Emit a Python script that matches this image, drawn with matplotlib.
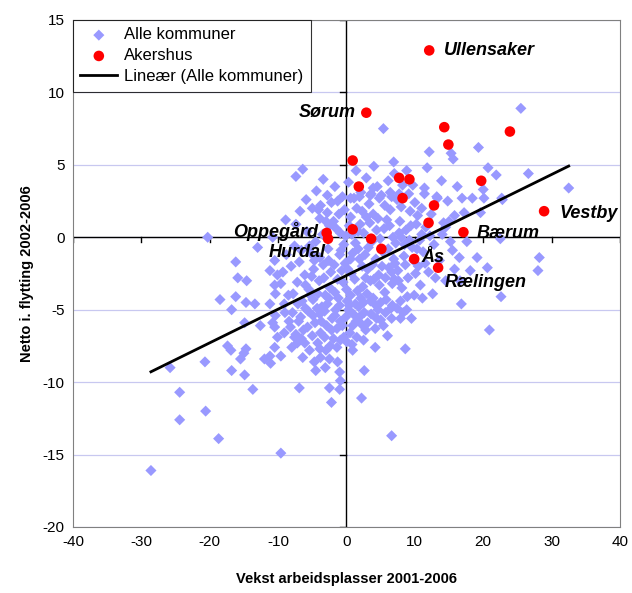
import numpy as np
import matplotlib.pyplot as plt

plt.rcParams['font.family'] = ['Liberation Sans', 'DejaVu Sans']
plt.rcParams['axes.unicode_minus'] = False

# Alle kommuner: vekst arbeidsplasser (x) og netto innflytting (y)
alle_x = [
    -7.4, -6.4, -20.3, -13.0, -16.2, -15.9, -14.6, -11.2, -10.5, -10.1, -9.6, -10.5, -10.8,
    -18.5, -16.8, -16.2, -14.7, -13.4, -14.9, -17.4, -16.9, -15.0, -15.5, -14.7, -12.0, -11.1,
    -9.6, -11.2, -10.5, -10.1, -10.5, -10.8, -12.6, -11.2, -10.4, -9.1, -9.1, -10.4,
    -25.8, -20.7, -16.8, -14.9, -24.4, -13.7, -20.6, -24.4, -18.7, -9.6, -28.6,
    -6.9, -2.5, -1.0, -2.2, 2.2, 6.6,
    -0.9, 2.5, 0.9, 4.2, -5.4, -3.9, -6.4, -3.8, -4.7, -2.5, -1.3, -4.5, -3.1, -1.0, 2.6, -0.9,
    -7.6, -8.2, -7.2,
    16.8, 22.6, 20.9, 8.6, 8.9, 11.1, 7.9, 8.8, 6.7,
    22.5, 20.6, 22.8, 28.2, 28.0,
    18.4, 19.6, 19.1, 18.1, 16.6, 15.2, 16.5, 17.6, 14.5, 15.8, 17.2,
    25.5, 19.3, 20.7, 21.9, 26.6, 32.5, 20.0, 20.1, 22.7,
    5.4, 12.1, 15.3, 15.6, 6.9, 2.9, 3.9, 16.2,
    0.6, 1.9, 3.5, 4.8, 6.4, 7.7, 11.4, 13.3, 16.9,
    -5.0, -3.8, -2.8, -3.9,
    -8.8, -8.1, -7.6, -7.2, -6.9, -6.5, -6.1, -5.8, -5.5, -5.2, -8.5, -7.9, -7.0, -6.3, -5.6,
    -8.9, -6.8, -5.9, -7.4, -9.3,
    -4.8, -4.5, -4.2, -3.9, -3.6, -3.3, -3.0, -2.7, -2.4, -2.1, -1.8, -1.5, -1.2, -4.6, -3.8,
    -2.9, -1.9, -4.1, -2.2, -1.3, -4.9, -3.5, -2.6, -1.6, -1.1, -4.4, -3.1, -1.4,
    -0.8, -0.5, -0.2, 0.1, 0.4, 0.7, 1.0, 1.3, 1.6, 1.9, 2.2, 2.5, 2.8, -0.9, -0.3, 0.5, 1.1,
    1.8, 2.4, 2.9, -0.6, 0.2, 0.9, 1.5, 2.6, -0.1, 0.6, 2.0, 2.7,
    3.2, 3.5, 3.8, 4.1, 4.4, 4.7, 5.0, 5.3, 5.6, 5.9, 6.2, 6.5, 6.8, 3.3, 4.2, 5.1, 6.0, 6.7,
    3.9, 4.9, 5.7, 3.6, 6.4, 4.5, 6.9,
    7.2, 7.5, 7.8, 8.1, 8.4, 8.7, 9.0, 9.3, 9.6, 9.9, 10.2, 10.5, 10.8, 7.4, 8.3, 9.1, 10.0,
    10.7, 7.9, 9.5, 8.8, 10.4,
    11.2, 11.6, 12.0, 12.4, 12.8, 13.2, 13.6, 14.0, 14.5, 15.0, 15.5, 11.4, 12.6, 13.9, 11.8,
    14.8, 15.8,
    0.3, 1.4, 2.1, -1.7, -3.4, 4.0, 6.1, 7.0, 8.2,
    -0.4, 0.8, 1.7, 2.3, 3.0, 3.7, 4.3, 4.8, 5.5, 6.1, 6.6, 7.1, 7.6, 8.0, 8.6, 9.2, 9.8,
    10.3, 11.0, 11.5,
    -0.7, 0.0, 0.6, 1.2, 1.7, 2.1, 3.1, 3.4, 4.0, 4.6, 5.2, 5.8, 6.3, 7.0, 7.7, 8.5, 9.4, 10.1,
    -5.4, -4.7, -4.0, -3.4, -2.8, -2.3, -1.7, -1.0, -6.6, -6.0, -5.1, -3.9, -2.5, -1.9, -0.9,
    0.3, 1.4, 2.8, 3.9, 4.6, 5.4, 6.6, 7.4, 0.8, -0.4, -2.4, -3.2, -5.0, -6.1,
    0.6, 1.5, 2.3, 3.6, 5.6, 6.6, 8.0, 9.7, 11.0, 12.2, 13.0, 14.2, -1.3, -2.8,
    -7.8, -7.1, -6.7, -6.0, -5.3, -4.9, -4.3, -3.7, -3.2, -2.6, -2.2, -1.7, -1.0, -0.6, -0.1,
    0.4, 0.9, 1.3, 1.9, 2.5, 3.1, 3.5, 4.4, 5.0, 5.7, -8.4, -7.4, -6.6, -5.7, -4.2, -3.0,
    -1.4, 0.0, -9.0, -8.0,
]
alle_y = [
    4.2, 4.7, 0.0, -0.7, -1.7, -2.8, -3.0, -2.3, -1.6, -2.6, -3.2, -3.3, 0.0,
    -4.3, -5.0, -4.1, -4.5, -4.6, -5.9, -7.5, -7.8, -8.0, -8.4, -7.7, -8.4, -8.7,
    -8.2, -8.2, -7.6, -6.9, -6.2, -5.9, -6.1, -4.6, -3.9, -4.6, -6.6, -5.4,
    -9.0, -8.6, -9.2, -9.5, -10.7, -10.5, -12.0, -12.6, -13.9, -14.9, -16.1,
    -10.4, -10.4, -10.5, -11.4, -11.1, -13.7,
    -7.1, -7.1, -7.8, -7.6, -7.8, -7.7, -8.3, -8.3, -8.6, -8.4, -8.6, -9.2, -9.0, -9.3, -9.2, -9.9,
    -6.9, -6.2, -7.3,
    -4.6, -4.1, -6.4, -7.7, -4.1, -4.2, -5.6, -5.0, -4.7,
    -0.1, -2.1, 2.6, -1.4, -2.3,
    2.7, 1.7, -1.4, -2.3, -3.0, -0.3, -1.4, -0.3, 0.7, 1.5, 1.7,
    8.9, 6.2, 4.8, 4.3, 4.4, 3.4, 3.3, 2.7, 2.7,
    7.5, 5.9, 5.8, 5.4, 5.2, 4.1, 3.4, 3.5,
    2.7, 2.8, 2.9, 2.7, 3.1, 3.0, 3.0, 2.7, 2.7,
    2.0, 2.2, 1.7, 1.3,
    -1.2, -2.0, -0.6, -3.1, -1.7, -4.4, -2.6, 0.4, -3.6, -1.1, -4.0, -5.2, -5.8, -6.4, -5.1,
    1.2, 1.8, 2.6, 0.9, -2.4,
    -2.2, -0.3, -3.9, -1.4, -4.8, -2.8, 1.1, -0.8, -3.5, -5.6, -1.9, 0.6, -4.2, -5.9, -6.6,
    -6.1, -7.0, 1.9, 2.4, -2.9, -4.3, 0.2, -1.6, -5.0, 1.6, 3.2, -4.0, -6.3,
    -0.9, -3.1, -1.8, -4.4, 0.8, -2.5, -5.3, -0.4, -3.7, -1.5, -6.0, 0.3, -2.8, -5.8, 1.9, -6.6, 2.7,
    -4.8, -3.4, 1.4, 2.8, -2.2, -1.1, -6.9, -5.2, 0.1, -4.0, 0.9, -1.2,
    -0.7, -3.0, -1.9, -4.6, 0.5, -2.6, -5.7, -1.0, -3.8, 1.2, -2.1, -4.9, 0.0, 2.3, -6.3, 2.9, -6.8, -3.2,
    1.6, -0.1, -2.8, -5.3, 1.9, 3.5, -1.5,
    -0.4, -2.3, 1.1, -3.5, -1.3, 0.5, -2.8, 1.8, -0.7, -4.0, 0.9, -2.0, -3.3, 2.6, -5.2, 3.0, 2.4,
    -0.2, -4.4, -5.6, 4.6, 1.5,
    -1.0, 0.7, -2.4, 1.6, -0.5, 2.8, -1.6, 0.2, -3.0, 1.1, -0.9, 3.4, -3.9, 3.9, 4.8,
    2.5, -2.2,
    3.8, 4.6, 3.1, 3.5, 4.0, 4.9, 3.9, 4.4, 3.6,
    -0.5, 0.2, -0.8, -2.0, -3.9, -0.3, -1.5, -3.3, 0.6, -0.8, -2.4, -1.8, -3.0, 0.0, -1.9, -0.2, -1.6,
    -0.8, 0.2, -1.8,
    -2.3, -3.6, -1.5, -2.9, 0.4, -4.2, -2.2, 1.0, -2.9, 1.3, -2.0, -4.3, 0.8, -2.9, 0.3, -0.5, 0.8, -2.5,
    -0.6, -1.6, -3.0, -1.9, -4.6, -2.4, -3.8, -1.2, -0.9, -3.3, -2.7, -5.3, 0.8, 1.1, 0.3,
    -5.0, -5.8, -6.4, -4.2, -5.0, -6.1, -5.6, -4.9, -7.4, -6.9, -7.5, -6.9, -6.8, -7.3,
    1.4, 2.0, 1.8, 3.0, 2.2, 2.8, 2.1, 3.6, 2.0, 0.1, -2.8, 1.0, 2.5, 2.9,
    -3.9, -4.6, -5.5, -4.9, -4.0, -5.4, -4.9, -5.8, -5.1, -4.2, -6.4, -5.4, -4.7, -6.1, -5.5,
    -4.7, -6.1, -4.6, -5.5, -4.5, -5.9, -4.4, -5.6, -4.5, -5.2, -5.8, -6.7, -7.0, -6.2, -7.3, -7.8,
    -7.6, -7.2, -5.2, -7.6,
]

# Akershus-kommuner
aker_x = [12.1, 2.9, 14.3, 23.9, 14.9, 0.9, 19.7, 7.7, 9.2, 1.8, 8.2, 12.8, 28.9, 12.0,
          0.9, -2.9, -2.7, 3.6, 17.1, 5.1, 9.9, 13.4]
aker_y = [12.9, 8.6, 7.6, 7.3, 6.4, 5.3, 3.9, 4.1, 4.0, 3.5, 2.7, 2.2, 1.8, 1.0,
          0.55, 0.3, -0.1, -0.1, 0.35, -0.8, -1.5, -2.1]

# navn som står i figuren: (navn, x, y, justering)
navn = [
    ("Ullensaker", 14.3, 12.9, "left"),
    ("Sørum", 1.3, 8.6, "right"),
    ("Vestby", 31.1, 1.66, "left"),
    ("Oppegård", -4.2, 0.4, "right"),
    ("Hurdal", -3.1, -1.04, "right"),
    ("Bærum", 19.1, 0.28, "left"),
    ("Ås", 10.9, -1.4, "left"),
    ("Rælingen", 14.3, -3.1, "left"),
]

fig = plt.figure(figsize=(6.32, 5.93), dpi=100)
ax = fig.add_axes([0.1155, 0.1113, 0.8655, 0.855])

ax.set_xlim(-40, 40)
ax.set_ylim(-20, 15)
ax.set_xticks(np.arange(-40, 41, 10))
ax.set_yticks(np.arange(-20, 16, 5))
ax.grid(axis='y', color='#c8c8f0', lw=0.9)
ax.set_axisbelow(True)
for s in ax.spines.values():
    s.set_color('#808080')
    s.set_linewidth(0.8)
ax.tick_params(length=0, labelsize=11, pad=6)

# akser gjennom null med tikkmerker
ax.axhline(0, color='black', lw=1.0, zorder=1)
ax.axvline(0, color='black', lw=1.0, zorder=1)
for xt in np.arange(-40, 41, 10):
    ax.plot([xt, xt], [0, -0.35], color='black', lw=1.0, zorder=1)
for yt in np.arange(-20, 16, 5):
    ax.plot([0, -0.9], [yt, yt], color='black', lw=1.0, zorder=1)

ax.scatter(alle_x, alle_y, marker='D', s=32, color='#9999ff', edgecolors='none',
           zorder=2, label='Alle kommuner')
ax.scatter(aker_x, aker_y, marker='o', s=58, color='#ff0000', edgecolors='none',
           zorder=3, label='Akershus')

# lineær trend
all_x = np.array(alle_x + aker_x)
all_y = np.array(alle_y + aker_y)
k, m = np.polyfit(all_x, all_y, 1)
xs = np.array([all_x.min(), all_x.max()])
ax.plot(xs, k * xs + m, color='black', lw=2, zorder=4, label='Lineær (Alle kommuner)')

for t, x, y, ha in navn:
    ax.text(x, y, t, ha=ha, va='center', fontsize=13, fontweight='bold',
            fontstyle='italic', zorder=5)

ax.set_xlabel('Vekst arbeidsplasser 2001-2006', fontsize=10.5, fontweight='bold', labelpad=16)
ax.set_ylabel('Netto i. flytting 2002-2006', fontsize=10.5, fontweight='bold', labelpad=6)

leg = ax.legend(loc='upper left', fontsize=12, frameon=True, fancybox=False,
                borderaxespad=0, handlelength=2.2, handletextpad=0.4,
                labelspacing=0.35, borderpad=0.45)
leg.get_frame().set_edgecolor('black')
leg.get_frame().set_linewidth(0.8)

fig.savefig('out.png', dpi=100)
